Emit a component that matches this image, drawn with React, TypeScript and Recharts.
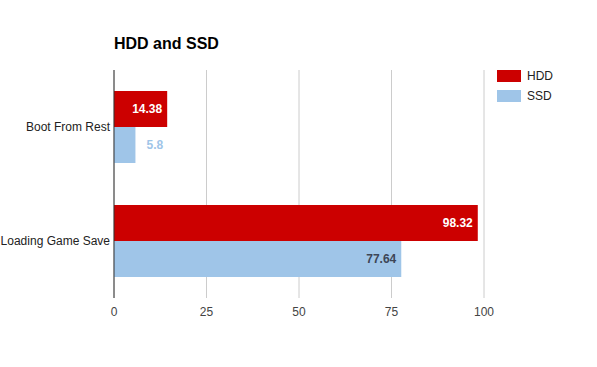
import React from "react";
import { BarChart, Bar, XAxis, YAxis, CartesianGrid, LabelList } from "recharts";

const categories = ["Boot From Rest", "Loading Game Save"];
const hddValues = [14.38, 98.32];
const ssdValues = [5.8, 77.64];
const xTicks = [0, 25, 50, 75, 100];
const seriesNames = ["HDD", "SSD"];
const seriesColors = ["#cc0000", "#9fc5e8"];

const data = categories.map((c, i) => ({ name: c, HDD: hddValues[i], SSD: ssdValues[i] }));

const FONT = "Arial, 'Liberation Sans', sans-serif";

const makeLabel = (outsideColor: string, insideColor: string) => (props: any) => {
  const { x, y, width, height, value } = props;
  const cy = y + height / 2;
  if (width < 40) {
    return (
      <text x={x + width + 11} y={cy} dy="0.35em" textAnchor="start" fontSize={12} fontWeight="bold" fill={outsideColor} fontFamily={FONT}>
        {value}
      </text>
    );
  }
  return (
    <text x={x + width - 5} y={cy} dy="0.35em" textAnchor="end" fontSize={12} fontWeight="bold" fill={insideColor} fontFamily={FONT}>
      {value}
    </text>
  );
};

const CategoryTick = (props: any) => {
  const { x, y, payload } = props;
  return (
    <text x={x} y={y} dy="0.35em" textAnchor="end" fontSize={12} fill="#222" fontFamily={FONT}>
      {payload.value}
    </text>
  );
};

export default function App() {
  return (
    <div style={{ position: "absolute", left: 0, top: 0, width: 597, height: 367, background: "#fff" }}>
      <div style={{ position: "absolute", left: 114, top: 35, fontFamily: FONT, fontSize: 16, fontWeight: "bold", color: "#000", lineHeight: "18px" }}>
        HDD and SSD
      </div>
      <div style={{ position: "absolute", left: 497, top: 70, fontFamily: FONT, fontSize: 12, color: "#222", zIndex: 2 }}>
        {seriesNames.map((n, i) => (
          <div key={n} style={{ display: "flex", alignItems: "center", height: 12, marginBottom: 8 }}>
            <div style={{ width: 24, height: 12, background: seriesColors[i], marginRight: 6 }} />
            <span style={{ lineHeight: "12px" }}>{n}</span>
          </div>
        ))}
      </div>
      <BarChart
        width={597}
        height={367}
        data={data}
        layout="vertical"
        margin={{ top: 70, right: 113, bottom: 39, left: 0 }}
        barCategoryGap={21}
        barGap={0}
      >
        <CartesianGrid horizontal={false} stroke="#cccccc" />
        <XAxis
          type="number"
          domain={[0, 100]}
          ticks={xTicks}
          axisLine={false}
          tickLine={false}
          tickSize={0}
          tickMargin={9}
          height={30}
          tick={{ fill: "#444", fontSize: 12, fontFamily: FONT }}
        />
        <YAxis
          type="category"
          dataKey="name"
          width={114}
          axisLine={{ stroke: "#333", strokeWidth: 1 }}
          tickLine={false}
          tickSize={0}
          tickMargin={4}
          tick={<CategoryTick />}
        />
        <Bar dataKey="HDD" fill={seriesColors[0]} isAnimationActive={false}>
          <LabelList dataKey="HDD" content={makeLabel("#cc0000", "#ffffff")} />
        </Bar>
        <Bar dataKey="SSD" fill={seriesColors[1]} isAnimationActive={false}>
          <LabelList dataKey="SSD" content={makeLabel("#9fc5e8", "#3d4656")} />
        </Bar>
      </BarChart>
    </div>
  );
}
